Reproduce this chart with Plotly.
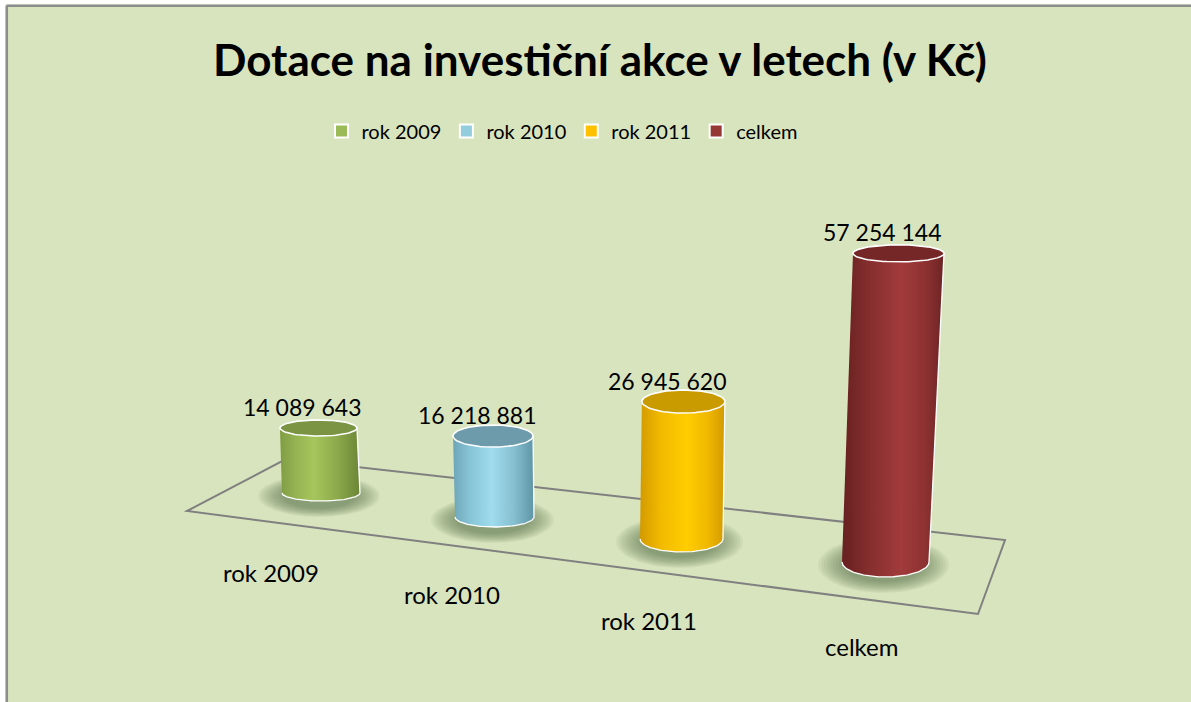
import numpy as np
import plotly.graph_objects as go

# ---- data ----
categories = ["rok 2009", "rok 2010", "rok 2011", "celkem"]
values = [14089643, 16218881, 26945620, 57254144]
series_colors = ["#9BBB59", "#93CDDD", "#FFC000", "#953735"]

# ---- pseudo-3D layout (pixel space of the 1191x702 page) ----
base_x = [321, 494.5, 681.5, 885.5]
base_y = [493, 517, 539, 562]
base_rx = [39, 39.5, 41.5, 43.5]
base_ry = [8, 10, 13, 15]
top_rx = [38.5, 40, 41.5, 45.5]
top_ry = [8, 11, 11.5, 8.5]
px_per_million = [4.61, 4.99, 5.10, 5.39]
lean_per_million = [-0.18, -0.09, 0.07, 0.227]
cat_label_xy = [(271, 572), (452, 594), (649, 620), (862, 646)]

body_scales = [
    [[0, "#7f9c44"], [0.2, "#95b452"], [0.42, "#a6c65c"], [0.7, "#8eab4c"], [1, "#6b8536"]],
    [[0, "#6ea6b8"], [0.2, "#86c3d5"], [0.48, "#9fdcee"], [0.75, "#86bfd0"], [1, "#5e95a6"]],
    [[0, "#d39a00"], [0.25, "#f2bb00"], [0.55, "#ffcd00"], [0.8, "#f0b800"], [1, "#d29a00"]],
    [[0, "#672020"], [0.25, "#842d2d"], [0.58, "#a23b3b"], [0.82, "#8d3131"], [1, "#6c2424"]],
]
top_colors = ["#7b9443", "#6d9bab", "#c99b00", "#752727"]

W, H = 1191, 702
BG = "#D8E4BD"

fig = go.Figure()

def ellipse(cx, cy, rx, ry, t0=0, t1=2 * np.pi, n=80):
    t = np.linspace(t0, t1, n)
    return cx + rx * np.cos(t), cy + ry * np.sin(t)

for i, (cat, v) in enumerate(zip(categories, values)):
    m = v / 1e6
    bx, by = base_x[i], base_y[i]
    tx = bx + lean_per_million[i] * m
    ty = by - px_per_million[i] * m

    # soft shadow
    for k in range(10):
        s = 1.0 - k * 0.045
        sx, sy = ellipse(bx - 2, by + 3, (base_rx[i] + 22) * s, (base_ry[i] + 13) * s)
        fig.add_trace(go.Scatter(x=sx, y=sy, mode="lines", line=dict(width=0),
                                 fill="toself", fillcolor="rgba(75,95,55,0.07)",
                                 hoverinfo="skip", showlegend=False))

    # body silhouette: lower front arc of base, then upper back arc of top
    bxs, bys = ellipse(bx, by, base_rx[i], base_ry[i], np.pi, 0)
    txs, tys = ellipse(tx, ty, top_rx[i], top_ry[i], 0, np.pi)
    tys = ty - (tys - ty)
    px = np.concatenate([bxs, txs])
    py = np.concatenate([bys, tys])
    fig.add_trace(go.Scatter(x=px, y=py, mode="lines",
                             line=dict(color="white", width=1.3),
                             fill="toself",
                             fillgradient=dict(type="horizontal", colorscale=body_scales[i]),
                             hoverinfo="skip", showlegend=False))
    # top ellipse
    ex, ey = ellipse(tx, ty, top_rx[i], top_ry[i])
    fig.add_trace(go.Scatter(x=ex, y=ey, mode="lines",
                             line=dict(color="white", width=1.5),
                             fill="toself", fillcolor=top_colors[i],
                             hoverinfo="skip", showlegend=False))
    # value label
    fig.add_annotation(x=tx - 16, y=ty - 21, text=f"{v:,}".replace(",", " "),
                       showarrow=False, font=dict(family="Lato", size=23, color="black"),
                       xanchor="center", yanchor="middle")
    # category label
    lx, ly = cat_label_xy[i]
    fig.add_annotation(x=lx, y=ly, text=cat, showarrow=False,
                       font=dict(family="Lato", size=24, color="black"),
                       xanchor="center", yanchor="middle")

# legend entries
for cat, col in zip(categories, series_colors):
    fig.add_trace(go.Scatter(x=[None], y=[None], mode="markers", name=cat,
                             marker=dict(symbol="square", size=13, color=col,
                                         line=dict(color="white", width=2))))

def px_x(x):
    return x / W

def px_y(y):
    return 1 - y / H

fig.update_layout(
    width=W, height=H,
    margin=dict(l=0, r=0, t=0, b=0),
    paper_bgcolor=BG, plot_bgcolor="rgba(0,0,0,0)",
    xaxis=dict(range=[0, W], visible=False, fixedrange=True),
    yaxis=dict(range=[H, 0], visible=False, fixedrange=True),
    title=dict(text="<b>Dotace na investiční akce v letech (v Kč)</b>",
               x=600 / W, xanchor="center", y=1 - 61 / H, yanchor="middle",
               font=dict(family="Lato", size=44, color="black")),
    legend=dict(orientation="h", x=562 / W, xanchor="center", y=1 - 131 / H,
                yanchor="middle", font=dict(family="Lato", size=20, color="black"),
                bgcolor="rgba(0,0,0,0)", itemclick=False, itemdoubleclick=False),
    shapes=[
        # white page strips outside the chart frame
        dict(type="rect", xref="paper", yref="paper", x0=0, x1=px_x(5.5), y0=0, y1=1,
             fillcolor="white", line=dict(width=0), layer="below"),
        dict(type="rect", xref="paper", yref="paper", x0=0, x1=1, y0=px_y(4.5), y1=1,
             fillcolor="white", line=dict(width=0), layer="below"),
        # gray frame (top and left edges visible)
        dict(type="line", xref="paper", yref="paper", x0=px_x(6.5), x1=1,
             y0=px_y(5.8), y1=px_y(5.8), line=dict(color="#8c8c8c", width=2.5), layer="below"),
        dict(type="line", xref="paper", yref="paper", x0=px_x(6.8), x1=px_x(6.8),
             y0=0, y1=px_y(5.8), line=dict(color="#8c8c8c", width=2.5), layer="below"),
        # floor of the 3D plot area
        dict(type="path", xref="x", yref="y",
             path="M 187 511 L 286 459 L 1005 540 L 978 614 Z",
             line=dict(color="#808080", width=2), layer="below"),
    ],
)

fig.write_html("out.html", config={"displayModeBar": False, "staticPlot": True},
               post_script=("document.body.style.margin='0';"
                            "document.body.style.overflow='hidden';"
                            f"document.body.style.background='{BG}';"
                            f"document.documentElement.style.background='{BG}';"))
